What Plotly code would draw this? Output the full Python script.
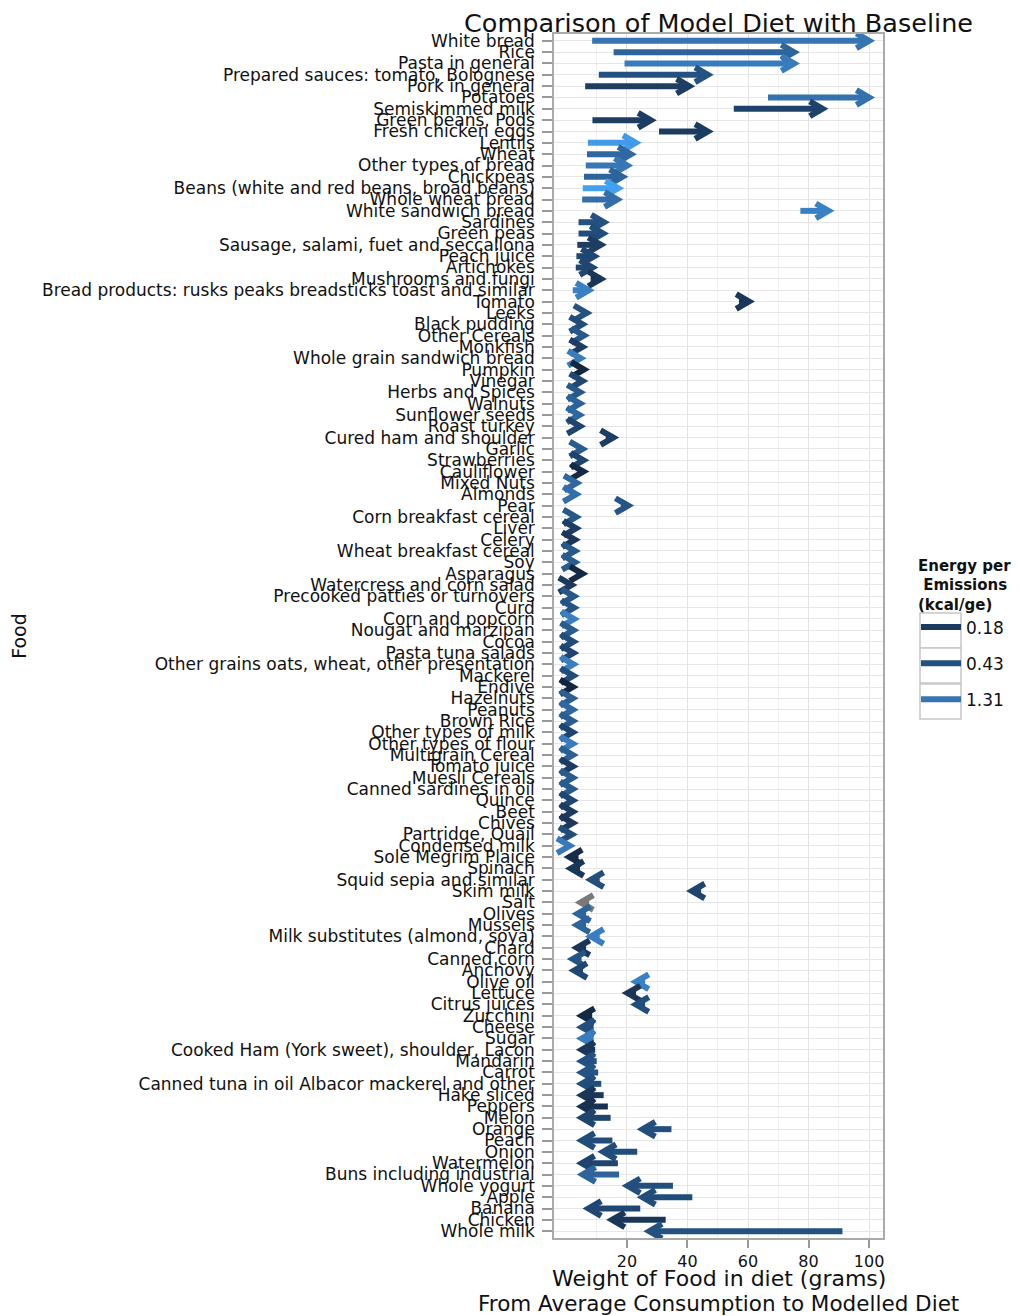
import math
import plotly.graph_objects as go

# ---------------- data ----------------
foods = [
    "White bread", "Rice", "Pasta in general", "Prepared sauces: tomato, Bolognese",
    "Pork in general", "Potatoes", "Semiskimmed milk", "Green beans, Pods",
    "Fresh chicken eggs", "Lentils", "Wheat", "Other types of bread", "Chickpeas",
    "Beans (white and red beans, broad beans)", "Whole wheat bread", "White sandwich bread",
    "Sardines", "Green peas", "Sausage, salami, fuet and seccallona", "Peach juice",
    "Artichokes", "Mushrooms and fungi",
    "Bread products: rusks peaks breadsticks toast and similar", "Tomato", "Leeks",
    "Black pudding", "Other Cereals", "Monkfish", "Whole grain sandwich bread", "Pumpkin",
    "Vinegar", "Herbs and Spices", "Walnuts", "Sunflower seeds", "Roast turkey",
    "Cured ham and shoulder", "Garlic", "Strawberries", "Cauliflower", "Mixed Nuts",
    "Almonds", "Pear", "Corn breakfast cereal", "Liver", "Celery", "Wheat breakfast cereal",
    "Soy", "Asparagus", "Watercress and corn salad", "Precooked patties or turnovers",
    "Curd", "Corn and popcorn", "Nougat and marzipan", "Cocoa", "Pasta tuna salads",
    "Other grains oats, wheat, other presentation", "Mackerel", "Endive", "Hazelnuts",
    "Peanuts", "Brown Rice", "Other types of milk", "Other types of flour",
    "Multigrain Cereal", "Tomato juice", "Muesli Cereals", "Canned sardines in oil",
    "Quince", "Beet", "Chives", "Partridge, Quail", "Condensed milk", "Sole Megrim Plaice",
    "Spinach", "Squid sepia and similar", "Skim milk", "Salt", "Olives", "Mussels",
    "Milk substitutes (almond, soya)", "Chard", "Canned corn", "Anchovy", "Olive oil",
    "Lettuce", "Citrus juices", "Zucchini", "Cheese", "Sugar",
    "Cooked Ham (York sweet), shoulder, Lacon", "Mandarin", "Carrot",
    "Canned tuna in oil Albacor mackerel and other", "Hake sliced", "Peppers", "Melon",
    "Orange", "Peach", "Onion", "Watermelon", "Buns including industrial", "Whole yogurt",
    "Apple", "Banana", "Chicken", "Whole milk",
]

# average consumption (grams) -- start of each arrow
baseline = [
    8.5, 15.6, 19.2, 10.7, 6.2, 66.6, 55.3, 8.6, 30.6, 7.1,
    6.8, 6.4, 5.8, 5.4, 5.2, 77.3, 4.0, 4.0, 3.6, 3.3,
    3.1, 8.0, 2.1, 57.0, 5.5, 4.6, 5.0, 4.6, 4.0, 5.0,
    4.6, 3.8, 3.8, 3.6, 3.8, 13.0, 4.6, 4.9, 4.9, 2.8,
    2.6, 18.0, 2.6, 2.6, 2.3, 2.3, 2.3, 4.6, 1.2, 1.7,
    2.0, 2.0, 1.8, 1.8, 1.8, 1.8, 1.8, 1.6, 1.6, 1.6,
    1.6, 1.6, 1.6, 1.6, 1.6, 1.6, 1.6, 1.6, 1.6, 1.6,
    1.3, 0.8, 4.0, 4.5, 11.0, 44.5, 7.5, 6.5, 6.5, 11.0,
    6.5, 5.0, 5.5, 26.0, 23.0, 26.0, 8.5, 9.0, 9.0, 9.5,
    10.0, 10.5, 11.5, 12.3, 13.7, 14.6, 34.7, 15.2, 23.4, 17.0,
    17.4, 35.2, 41.6, 24.4, 32.8, 91.2,
]

# modelled diet (grams) -- end of each arrow
model = [
    100.0, 75.2, 75.2, 46.7, 40.6, 100.0, 84.6, 27.9, 46.7, 22.9,
    21.3, 20.1, 18.5, 17.1, 16.8, 86.6, 12.4, 12.1, 11.4, 9.2,
    8.6, 11.4, 7.4, 60.3, 6.7, 5.3, 5.8, 5.3, 4.7, 5.8,
    5.3, 4.5, 4.5, 4.3, 4.5, 15.5, 5.3, 5.6, 5.6, 3.4,
    3.2, 20.4, 3.2, 3.2, 2.8, 2.8, 2.8, 5.3, 1.7, 2.5,
    2.5, 2.5, 2.3, 2.3, 2.3, 2.3, 2.3, 2.1, 2.1, 2.1,
    2.1, 2.1, 2.1, 2.1, 2.1, 2.1, 2.1, 2.1, 2.1, 2.1,
    1.8, 1.1, 1.0, 1.5, 8.1, 41.5, 4.7, 3.7, 3.5, 8.1,
    3.5, 2.1, 2.6, 23.0, 20.2, 23.0, 5.1, 5.1, 5.1, 5.1,
    5.1, 5.1, 5.1, 5.1, 5.1, 5.1, 25.2, 5.1, 12.2, 5.1,
    5.4, 20.2, 25.2, 7.3, 15.1, 27.4,
]

# energy per emissions (kcal/ge); None = missing (drawn grey)
energy = [
    1.3, 0.8, 1.6, 0.45, 0.2, 1.2, 0.25, 0.2, 0.19, 3.5,
    0.9, 1.4, 0.8, 4.0, 1.1, 1.8, 0.45, 0.38, 0.2, 0.3,
    0.3, 0.16, 1.8, 0.16, 0.45, 0.38, 0.55, 0.2, 1.6, 0.1,
    0.3, 0.55, 0.75, 0.9, 0.28, 0.2, 0.65, 0.27, 0.11, 0.9,
    1.1, 0.5, 0.55, 0.2, 0.16, 0.55, 0.65, 0.11, 0.18, 0.55,
    0.5, 1.7, 0.65, 0.38, 0.28, 1.7, 0.38, 0.1, 0.7, 0.9,
    0.65, 0.28, 1.6, 0.7, 0.19, 0.6, 0.6, 0.3, 0.19, 0.17,
    0.38, 1.5, 0.12, 0.16, 0.42, 0.27, None, 0.8, 0.8, 1.7,
    0.16, 0.5, 0.3, 1.8, 0.16, 0.38, 0.11, 0.42, 1.6, 0.17,
    0.45, 0.48, 0.38, 0.16, 0.14, 0.27, 0.42, 0.38, 0.38, 0.28,
    0.8, 0.42, 0.38, 0.3, 0.16, 0.45,
]

legend_levels = [0.18, 0.43, 1.31]
x_ticks = [20, 40, 60, 80, 100]
x_minor = [10, 30, 50, 70, 90]

# ---------------- colour scale (log energy -> blue gradient) ----------------
pal_vals = [0.1, 0.18, 0.43, 1.31, 4.0]
pal_cols = ["#13263f", "#1c3a5e", "#22507f", "#3674b2", "#43a0ed"]
na_col = "#7a7a7a"


def hex2rgb(h):
    h = h.lstrip("#")
    return [int(h[i:i + 2], 16) for i in (0, 2, 4)]


def colour_for(v):
    if v is None:
        return na_col
    lv = math.log(v)
    lp = [math.log(p) for p in pal_vals]
    if lv <= lp[0]:
        return pal_cols[0]
    if lv >= lp[-1]:
        return pal_cols[-1]
    for i in range(len(lp) - 1):
        if lp[i] <= lv <= lp[i + 1]:
            t = (lv - lp[i]) / (lp[i + 1] - lp[i])
            a, b = hex2rgb(pal_cols[i]), hex2rgb(pal_cols[i + 1])
            return "rgb(%d,%d,%d)" % tuple(round(a[k] + (b[k] - a[k]) * t) for k in range(3))
    return pal_cols[-1]


# ---------------- figure ----------------
FONT = "DejaVu Sans"
TXT = "#111111"
HEAD_X = 4.2    # arrow-head length along x (grams)
HEAD_Y = 0.65   # arrow-head half height (rows)

W, H = 1015, 1308
ML, MR, MT, MB = 546, 140, 26, 78
PW, PH = W - ML - MR, H - MT - MB


def px_to_paper_x(px):
    return (px - ML) / PW


def px_to_paper_y(py):
    return (H - MB - py) / PH


fig = go.Figure()
for i, (f, b, m, e) in enumerate(zip(foods, baseline, model, energy)):
    d = 1 if m >= b else -1
    col = colour_for(e)
    fig.add_trace(go.Scatter(
        x=[b, m, None, m - d * HEAD_X, m, m - d * HEAD_X],
        y=[i, i, None, i - HEAD_Y, i, i + HEAD_Y],
        mode="lines",
        line=dict(color=col, width=6),
        showlegend=False,
        hoverinfo="skip",
    ))

for lv in legend_levels:
    fig.add_trace(go.Scatter(
        x=[None], y=[None], mode="lines",
        line=dict(color=colour_for(lv), width=6),
        name=f"{lv:.2f}", legendgroup=str(lv), showlegend=True,
    ))

# legend key boxes (grey framed squares behind the keys)
shapes = []
box_top = [605, 640, 676]
for bt in box_top:
    shapes.append(dict(
        type="rect", xref="paper", yref="paper", layer="below",
        x0=px_to_paper_x(912), x1=px_to_paper_x(953),
        y0=px_to_paper_y(bt), y1=px_to_paper_y(bt + 35),
        line=dict(color="#c6c6c6", width=1.5), fillcolor="white",
    ))

n = len(foods)
fig.update_layout(
    width=W, height=H,
    margin=dict(l=ML, r=MR, t=MT, b=MB, autoexpand=False),
    paper_bgcolor="white", plot_bgcolor="white",
    font=dict(family=FONT, size=17, color=TXT),
    title=dict(text="Comparison of Model Diet with Baseline", x=0.5, xref="paper",
               xanchor="center", y=1 - 15 / H, yanchor="middle",
               font=dict(family=FONT, size=25.5, color=TXT)),
    legend=dict(
        title=dict(text="<b>Energy per<br> Emissions<br>(kcal/ge)</b>", side="top",
                   font=dict(family=FONT, size=15, color=TXT)),
        x=px_to_paper_x(908), xanchor="left", y=px_to_paper_y(543), yanchor="top",
        font=dict(family=FONT, size=17, color=TXT),
        itemwidth=40, tracegroupgap=11, bgcolor="rgba(0,0,0,0)",
    ),
    showlegend=True,
    shapes=shapes,
    annotations=[
        dict(text="Weight of Food in diet (grams)", xref="paper", yref="paper",
             x=0.5, y=px_to_paper_y(1270), xanchor="center", yanchor="middle",
             showarrow=False, font=dict(family=FONT, size=22, color=TXT)),
        dict(text="From Average Consumption to Modelled Diet", xref="paper", yref="paper",
             x=0.5, y=px_to_paper_y(1295), xanchor="center", yanchor="middle",
             showarrow=False, font=dict(family=FONT, size=21.5, color=TXT)),
    ],
)

fig.update_xaxes(
    range=[-4.1, 104.6], tickvals=x_ticks, ticktext=[str(t) for t in x_ticks],
    showgrid=True, gridcolor="#e3e3e3", gridwidth=1,
    minor=dict(tickvals=x_minor, showgrid=True, gridcolor="#f1f1f1", gridwidth=1),
    ticks="outside", ticklen=8, tickwidth=1.5, tickcolor="#999999",
    showline=True, mirror=True, linecolor="#aaaaaa", linewidth=1.5,
    zeroline=False, tickfont=dict(family=FONT, size=16, color=TXT),
    automargin=False,
)
fig.update_yaxes(
    range=[n - 1 + 0.6, -0.6], tickvals=list(range(n)), ticktext=foods,
    showgrid=True, gridcolor="#e6e6e6", gridwidth=1,
    ticks="outside", ticklen=10, tickwidth=1.5, tickcolor="#999999",
    ticklabelstandoff=4,
    showline=True, mirror=True, linecolor="#aaaaaa", linewidth=1.5,
    zeroline=False, tickfont=dict(family=FONT, size=17, color=TXT),
    title=dict(text="Food", font=dict(family=FONT, size=19, color=TXT)),
    automargin=False,
)

fig.write_html("out.html")
